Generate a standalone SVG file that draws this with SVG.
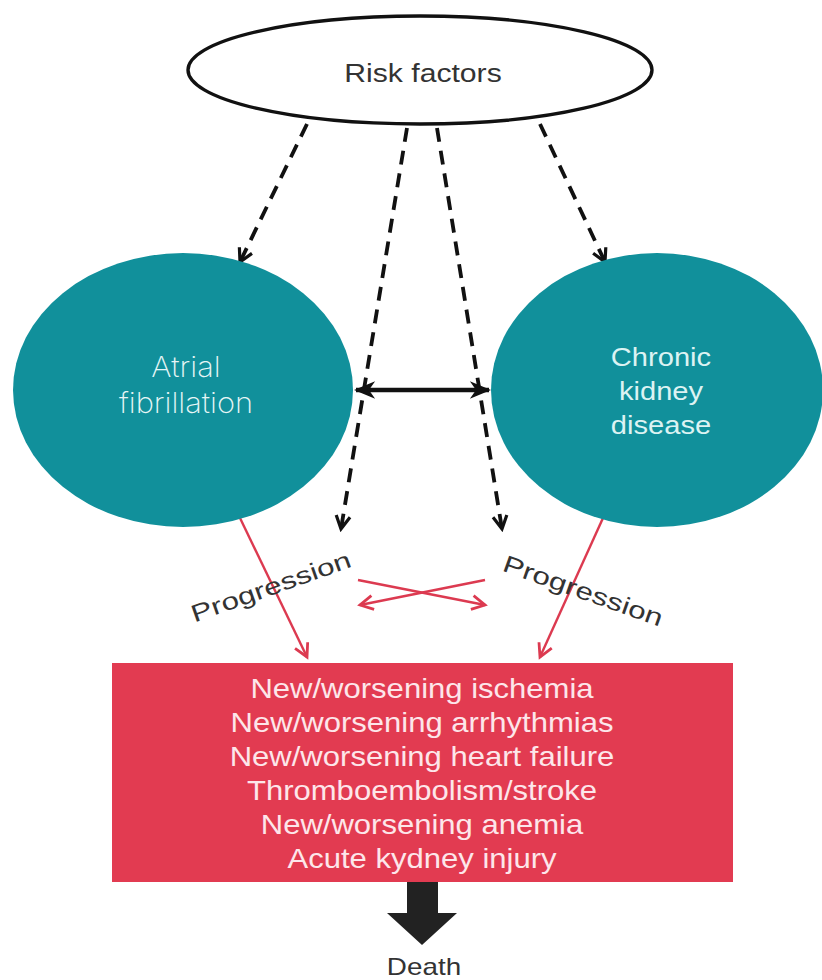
<svg xmlns="http://www.w3.org/2000/svg" width="822" height="980" viewBox="0 0 822 980">
<defs>
<style>
.dash{fill:none;stroke:#111;stroke-width:3.8;stroke-dasharray:14 9;marker-end:url(#ak)}
.red{fill:none;stroke:#dc3a50;stroke-width:2.4;marker-end:url(#ar)}
.sans{font-family:"Liberation Sans",Arial,sans-serif}
.box{fill:#fde6ea;font-size:27px;text-anchor:middle}
</style>
<marker id="ak" viewBox="0 0 20 20" refX="17" refY="10" markerWidth="20" markerHeight="20" markerUnits="userSpaceOnUse" orient="auto"><path d="M4,3 L17,10 L4,17" fill="none" stroke="#111" stroke-width="3.2"/></marker>
<marker id="ab" viewBox="0 0 22 20" refX="20" refY="10" markerWidth="22" markerHeight="20" markerUnits="userSpaceOnUse" orient="auto-start-reverse"><path d="M3,3 L20,10 L3,17 L8,10 Z" fill="#111" stroke="#111" stroke-width="1.5"/></marker>
<marker id="ar" viewBox="0 0 20 20" refX="17" refY="10" markerWidth="20" markerHeight="20" markerUnits="userSpaceOnUse" orient="auto"><path d="M4,3 L17,10 L4,17" fill="none" stroke="#dc3a50" stroke-width="2.8"/></marker>
</defs>
<rect width="822" height="980" fill="#ffffff"/>
<g id="connectors">
<line class="dash" x1="307" y1="124" x2="240" y2="262"/>
<line class="dash" x1="540" y1="124" x2="605" y2="262"/>
<line class="dash" x1="407" y1="128" x2="341" y2="529"/>
<line class="dash" x1="437" y1="128" x2="502" y2="529"/>
<line x1="356" y1="390" x2="489" y2="390" stroke="#111" stroke-width="4.5" marker-start="url(#ab)" marker-end="url(#ab)"/>
<line class="red" x1="240" y1="518" x2="307" y2="657"/>
<line class="red" x1="603" y1="518" x2="540" y2="657"/>
<line class="red" x1="358" y1="580" x2="485" y2="605"/>
<line class="red" x1="485" y1="580" x2="360" y2="605"/>
<g class="sans" font-size="24" fill="#333">
<g transform="translate(271 587) rotate(-19.5)"><text x="0" y="8" text-anchor="middle" textLength="168" lengthAdjust="spacingAndGlyphs">Progression</text></g>
<g transform="translate(583 591) rotate(19.5)"><text x="0" y="8" text-anchor="middle" textLength="168" lengthAdjust="spacingAndGlyphs">Progression</text></g>
</g>
</g>
<g id="risk">
<ellipse cx="420" cy="70" rx="232" ry="54" fill="#fff" stroke="#111" stroke-width="3.4"/>
<g transform="translate(423 0) scale(1.16 1)"><text class="sans" x="0" y="82" font-size="26" fill="#333" text-anchor="middle">Risk factors</text></g>
</g>
<g id="af">
<ellipse cx="183" cy="390" rx="170" ry="137" fill="#11909b"/>
<g transform="translate(186 0) scale(1.1 1)" font-family="Inter, Lato, sans-serif" font-weight="200" font-size="28" fill="#e6f6f6" text-anchor="middle">
<text x="0" y="377">Atrial</text>
<text x="0" y="413">fibrillation</text>
</g>
</g>
<g id="ckd">
<ellipse cx="657" cy="390" rx="166" ry="137" fill="#11909b"/>
<g transform="translate(661 0) scale(1.12 1)" class="sans" font-size="26" fill="#dcf3f3" text-anchor="middle">
<text x="0" y="366">Chronic</text>
<text x="0" y="400">kidney</text>
<text x="0" y="434">disease</text>
</g>
</g>
<g id="outcomes">
<rect x="112" y="663" width="621" height="219" fill="#e23b51"/>
<g transform="translate(422 0) scale(1.15 1)" class="sans box">
<text x="0" y="698">New/worsening ischemia</text>
<text x="0" y="732">New/worsening arrhythmias</text>
<text x="0" y="766">New/worsening heart failure</text>
<text x="0" y="800">Thromboembolism/stroke</text>
<text x="0" y="834">New/worsening anemia</text>
<text x="0" y="868">Acute kydney injury</text>
</g>
</g>
<g id="death">
<polygon points="407,882 438,882 438,913 457,913 422,945 387,913 407,913" fill="#222"/>
<g transform="translate(424 0) scale(1.16 1)"><text class="sans" x="0" y="975" font-size="24" fill="#333" text-anchor="middle">Death</text></g>
</g>
</svg>
